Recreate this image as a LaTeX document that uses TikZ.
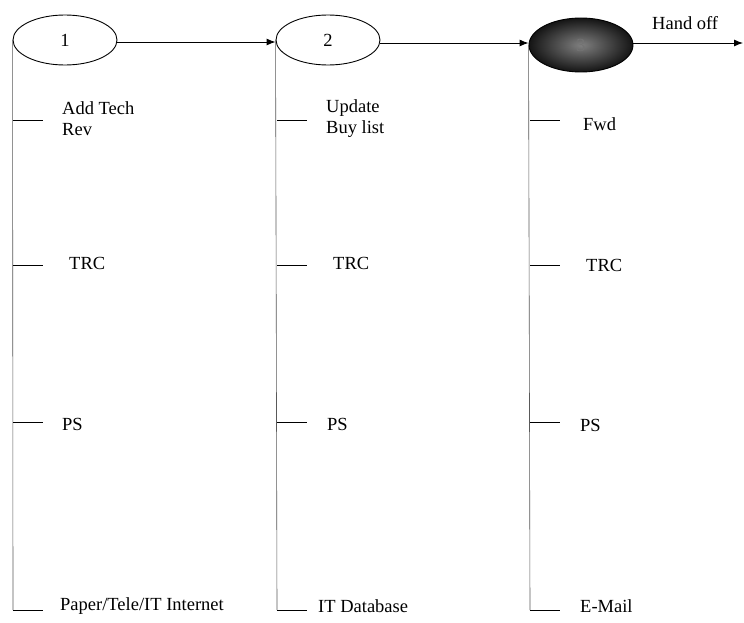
\documentclass[tikz,border=0pt]{standalone}
\usepackage{fontspec}
\setmainfont{Liberation Serif}
\usetikzlibrary{shapes.geometric,arrows.meta}
\begin{document}
\begin{tikzpicture}[x=1pt,y=-1pt,
  txt/.style={font=\fontsize{18.5}{21}\selectfont},
  stage/.style={ellipse,draw,line width=0.9pt,minimum width=104pt,minimum height=50pt,inner sep=0pt,txt},
  darkstage/.style={stage,minimum height=54pt,inner color=black!50,outer color=black!92,text=black!55},
  lane/.style={draw=black!65,line width=0.6pt},
  tickmark/.style={draw,line width=0.9pt},
  flow/.style={draw,line width=0.9pt,-{Latex[length=9pt,width=7pt]}},
  lbl/.style={anchor=west,inner sep=0pt,align=left,txt}]
\useasboundingbox (0,0) rectangle (744,623);
\fill[white] (0,0) rectangle (744,623);

\node[stage] (s1) at (65,40) {1};
\node[stage] (s2) at (328,40) {2};
\node[darkstage] (s3) at (581,45) {3};
\coordinate (out) at (743,43);

\draw[flow] (s1.east |- 0,42) -- (s2.west |- 0,42);
\draw[flow] (s2.east |- 0,43) -- (s3.west |- 0,43);
\draw[flow] (s3.east |- 0,43) -- (out);
\node[lbl] (hand) at (652,23) {Hand off};

% lanes
\foreach \s/\x in {s1/13,s2/277,s3/530}{
  \coordinate (\s bot) at (\x,610);
  \draw[lane] (\s.west) -- (\s bot);
  \foreach \y in {120,265,422}{
    \coordinate (\s t\y) at (\x,\y);
    \draw[tickmark] (\s t\y) -- ++(30,0);
  }
  \draw[tickmark] (\s bot) -- ++(30,0);
}

% labels column 1
\node[lbl] (a1) at (62,119) {Add Tech\\Rev};
\node[lbl] (a2) at (69,263) {TRC};
\node[lbl] (a3) at (62,424) {PS};
\node[lbl] (a4) at (60,606) {Paper/Tele/IT Internet};
% labels column 2
\node[lbl] (b1) at (326,119) {Update\\Buy list};
\node[lbl] (b2) at (333,263) {TRC};
\node[lbl] (b3) at (327,424) {PS};
\node[lbl] (b4) at (318,606) {IT Database};
% labels column 3
\node[lbl] (c1) at (583,124) {Fwd};
\node[lbl] (c2) at (586,265) {TRC};
\node[lbl] (c3) at (580,425) {PS};
\node[lbl] (c4) at (580,606) {E-Mail};
\end{tikzpicture}
\end{document}
